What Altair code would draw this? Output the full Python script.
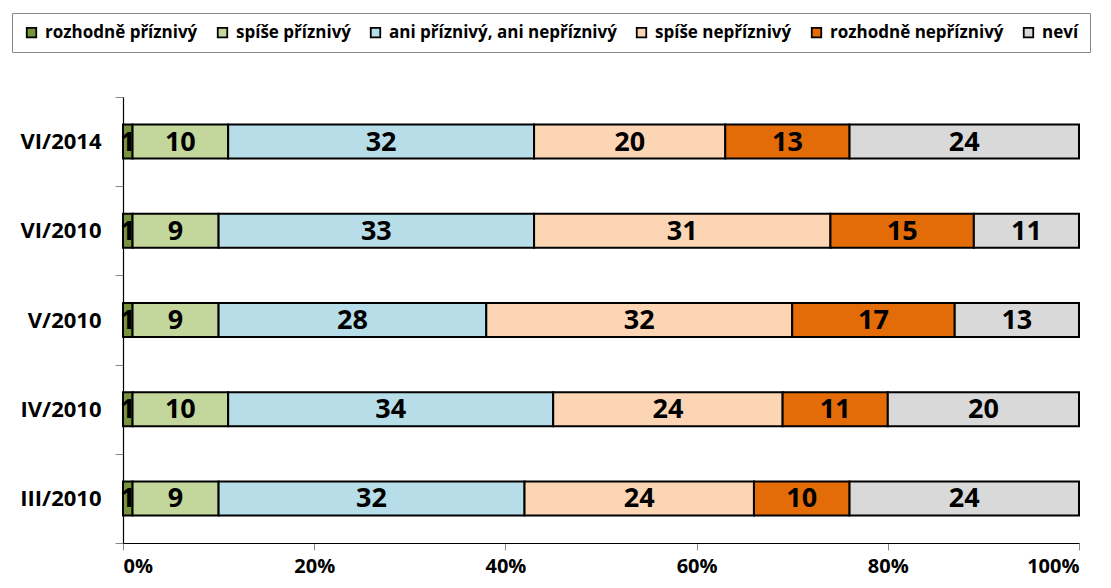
import altair as alt
import pandas as pd

periods = ["VI/2014", "VI/2010", "V/2010", "IV/2010", "III/2010"]
answers = ["rozhodně příznivý", "spíše příznivý", "ani příznivý, ani nepříznivý",
           "spíše nepříznivý", "rozhodně nepříznivý", "neví"]
colors = ["#77933C", "#C3D69B", "#B7DEE8", "#FCD5B5", "#E36C09", "#D9D9D9"]

v_rozhodne_priz = [1, 1, 1, 1, 1]
v_spise_priz = [10, 9, 9, 10, 9]
v_ani = [32, 33, 28, 34, 32]
v_spise_nepriz = [20, 31, 32, 24, 24]
v_rozhodne_nepriz = [13, 15, 17, 11, 10]
v_nevi = [24, 11, 13, 20, 24]

series = [v_rozhodne_priz, v_spise_priz, v_ani, v_spise_nepriz, v_rozhodne_nepriz, v_nevi]
rows = []
for ai, (ans, vals) in enumerate(zip(answers, series)):
    for p, v in zip(periods, vals):
        rows.append({"period": p, "answer": ans, "order": ai, "value": v})
df = pd.DataFrame(rows)

FONT = "Open Sans"

base = alt.Chart(df).transform_stack(
    stack="value", groupby=["period"], as_=["x0", "x1"],
    sort=[alt.SortField("order", order="ascending")]
).transform_calculate(mid="(datum.x0 + datum.x1) / 2")

y_enc = alt.Y("period:N", sort=periods, title=None,
              scale=alt.Scale(paddingInner=0, paddingOuter=0),
              axis=alt.Axis(labelFont=FONT, labelFontSize=22, labelFontWeight="bold",
                            labelColor="black", labelPadding=14, tickBand="extent",
                            tickSize=8, tickColor="#888", domainColor="black",
                            domainWidth=1.2))

bars = base.mark_bar(size=34, stroke="black", strokeWidth=2).encode(
    x=alt.X("x0:Q", title=None,
            scale=alt.Scale(domain=[0, 100], nice=False),
            axis=alt.Axis(values=[0, 20, 40, 60, 80, 100], labelExpr="datum.value + '%'",
                          labelFont=FONT, labelFontSize=20, labelFontWeight="bold",
                          labelColor="black", tickSize=7, tickColor="#888",
                          domainColor="black", domainWidth=1.2, labelPadding=6,
                          grid=False)),
    x2="x1:Q",
    y=y_enc,
    color=alt.Color("answer:N", sort=answers,
                    scale=alt.Scale(domain=answers, range=colors),
                    legend=alt.Legend(
                        title=None, orient="none", legendX=-111, legendY=-84,
                        direction="horizontal", columns=6,
                        symbolType="square", symbolSize=90, symbolStrokeColor="black",
                        symbolStrokeWidth=1.8, symbolOpacity=1,
                        labelFont=FONT, labelFontSize=17, labelFontWeight="bold",
                        labelColor="black", labelOffset=5, columnPadding=16,
                        padding=11, strokeColor="#888", fillColor="white",
                        labelLimit=400)),
)

labels = base.mark_text(font=FONT, fontSize=27, fontWeight="bold", color="black",
                        baseline="middle", align="center", dy=1).encode(
    x="mid:Q",
    y=alt.Y("period:N", sort=periods),
    text="value:Q",
)

chart = alt.layer(bars, labels).properties(
    width=956, height=446,
    autosize=alt.AutoSizeParams(type="none"),
    padding={"left": 115, "top": 89, "right": 24, "bottom": 37},
).configure_view(stroke=None).configure_axisY(grid=False)

chart.save("out.html", embed_options={"renderer": "svg", "actions": False})
